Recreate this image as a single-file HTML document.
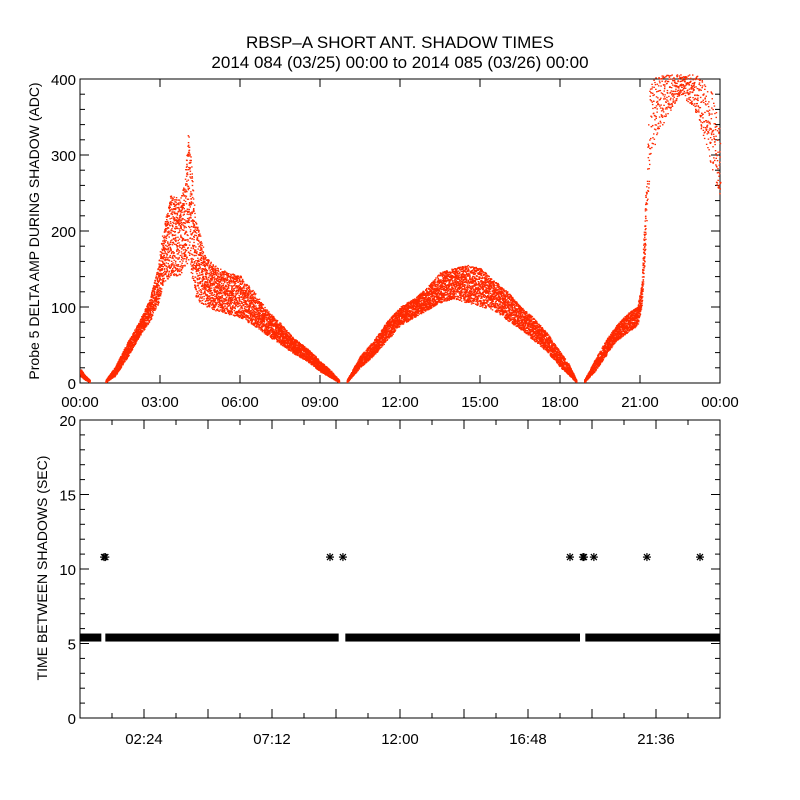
<!DOCTYPE html>
<html><head><meta charset="utf-8"><style>
body{margin:0;background:#fff}
svg{display:block}
text{font-family:"Liberation Sans",sans-serif;fill:#000}
</style></head><body>
<svg id="c" width="800" height="800" viewBox="0 0 800 800" xmlns="http://www.w3.org/2000/svg">
<rect width="800" height="800" fill="#fff"/>
<text x="400" y="48" font-size="17" text-anchor="middle">RBSP–A SHORT ANT. SHADOW TIMES</text>
<text x="400" y="68" font-size="17" text-anchor="middle">2014 084 (03/25) 00:00 to 2014 085 (03/26) 00:00</text>
<text transform="translate(39,231) rotate(-90)" font-size="14" text-anchor="middle">Probe 5 DELTA AMP DURING SHADOW (ADC)</text>
<text transform="translate(47,568) rotate(-90)" font-size="14" text-anchor="middle">TIME BETWEEN SHADOWS (SEC)</text>
<g id="top"></g><g id="bot"></g>
</svg>
<script>
// Top panel: envelope samples [hour] with low/high amplitude per segment
const seg1Hours=[0.0,0.15,0.35];
const seg1Low=[8,4,0];
const seg1High=[18,10,3];
const seg2Hours=[0.95,1.3,1.8,2.2,2.6,2.9,3.1,3.4,3.7,3.9,4.05,4.3,4.7,5.0,5.5,6.0,6.5,7.0,7.5,8.0,8.5,9.0,9.4,9.7];
const seg2Low=[0,8,35,60,80,100,130,140,140,150,160,110,100,95,90,85,75,62,50,38,28,14,6,0];
const seg2High=[3,20,55,80,110,150,200,250,240,260,340,220,165,155,145,140,120,95,78,58,45,28,15,3];
const seg3Hours=[10.0,10.5,11.0,11.5,12.0,12.5,13.0,13.5,14.0,14.5,15.0,15.5,16.0,16.5,17.0,17.5,18.0,18.3,18.6];
const seg3Low=[0,20,35,55,75,85,95,105,110,105,100,95,82,70,55,40,20,10,0];
const seg3High=[3,35,55,80,100,110,125,145,150,155,150,135,120,100,85,65,40,25,3];
const seg4Hours=[18.9,19.3,19.7,20.1,20.5,20.9,21.05,21.2];
const seg4Low=[0,15,35,55,65,75,100,180];
const seg4High=[3,30,55,75,90,100,130,250];
const seg5Hours=[21.2,21.35,21.6,22.0,22.5,23.0,23.4,23.7,24.0];
const seg5Low=[180,280,320,350,380,360,320,280,240];
const seg5High=[250,390,405,405,405,405,400,380,330];
// Bottom panel
const bandStarts=[0.0,0.95,9.95,18.95];
const bandEnds=[0.8,9.7,18.75,24.0];
const bandValue=5.4;
const outlierHours=[0.9,0.95,9.375,9.86,18.375,18.86,18.9,19.27,21.26,23.25];
const outlierValues=[10.8,10.8,10.8,10.8,10.8,10.8,10.8,10.8,10.8,10.8];
const topXTicks=["00:00","03:00","06:00","09:00","12:00","15:00","18:00","21:00","00:00"];
const topYTicks=[0,100,200,300,400];
const botXTicks=["02:24","07:12","12:00","16:48","21:36"];
const botYTicks=[0,5,10,15,20];

const NS="http://www.w3.org/2000/svg";
function mk(p,t,a){const e=document.createElementNS(NS,t);for(const k in a)e.setAttribute(k,a[k]);p.appendChild(e);return e;}
const X0=80,X1=720;
const xs=h=>X0+h/24*(X1-X0);
const yTop=v=>383-v/400*304;
const yBot=v=>718-v/20*298;
const gTop=document.getElementById('top'),gBot=document.getElementById('bot');
const hash=n=>{const s=Math.sin(n*12.9898+78.233)*43758.5453;return s-Math.floor(s);};

let f=mk(gTop,'rect',{x:X0,y:79,width:X1-X0,height:304,fill:'none',stroke:'#000','stroke-width':1});


f=mk(gBot,'rect',{x:X0,y:420,width:X1-X0,height:298,fill:'none',stroke:'#000','stroke-width':1});



for(let i=0;i<=40;i+=2){const v=i*10;const y=yTop(v);const L=(v%100===0)?9:5;
 mk(gTop,'line',{x1:X0,x2:X0+L,y1:y,y2:y,stroke:'#000'});mk(gTop,'line',{x1:X1,x2:X1-L,y1:y,y2:y,stroke:'#000'});}
topYTicks.forEach(v=>{const t=mk(gTop,'text',{x:X0-4,y:yTop(v)+6,'font-size':15,'text-anchor':'end'});t.textContent=v;
 
 });
topXTicks.forEach((s,i)=>{const x=xs(i*3);mk(gTop,'line',{x1:x,x2:x,y1:383,y2:375,stroke:'#000'});mk(gTop,'line',{x1:x,x2:x,y1:79,y2:87,stroke:'#000'});
 const t=mk(gTop,'text',{x:x,y:407,'font-size':15,'text-anchor':'middle'});t.textContent=s;
 
 });

let K=0;
function drawSeg(H,Lo,Hi,name,dens){const g=mk(gTop,'g',{fill:'#ff2a00'});
 
 
 for(let i=0;i<H.length-1;i++){const dh=H[i+1]-H[i];const n=Math.max(3,Math.round(dh*dens));
  for(let j=0;j<n;j++){K++;
   const a=hash(K), b=hash(K+100000.5);
   const fr=(j+b)/n;const h=H[i]+dh*fr;const lo=Lo[i]+(Lo[i+1]-Lo[i])*fr,hi=Hi[i]+(Hi[i+1]-Hi[i])*fr;
   const v=lo+(hi-lo)*a;if(v>405)continue;
   mk(g,'rect',{x:xs(h).toFixed(1),y:(yTop(v)-1).toFixed(1),width:1.5,height:1.3});}}}
drawSeg(seg1Hours,seg1Low,seg1High,'amp-segment-1',700);
drawSeg(seg2Hours,seg2Low,seg2High,'amp-segment-2',700);
drawSeg(seg3Hours,seg3Low,seg3High,'amp-segment-3',700);
drawSeg(seg4Hours,seg4Low,seg4High,'amp-segment-4',700);
drawSeg(seg5Hours,seg5Low,seg5High,'amp-segment-5',220);

for(let v=0;v<=20;v++){const y=yBot(v);const L=(v%5===0)?9:5;
 mk(gBot,'line',{x1:X0,x2:X0+L,y1:y,y2:y,stroke:'#000'});mk(gBot,'line',{x1:X1,x2:X1-L,y1:y,y2:y,stroke:'#000'});}
botYTicks.forEach(v=>{const t=mk(gBot,'text',{x:X0-4,y:yBot(v)+6,'font-size':15,'text-anchor':'end'});t.textContent=v;
 
 });
for(let i=1;i<20;i++){const x=xs(i*1.2);const L=(i%2===0)?9:5;
 mk(gBot,'line',{x1:x,x2:x,y1:718,y2:718-L,stroke:'#000'});mk(gBot,'line',{x1:x,x2:x,y1:420,y2:420+L,stroke:'#000'});}
botXTicks.forEach((s,i)=>{const t=mk(gBot,'text',{x:xs(2.4+i*4.8),y:744,'font-size':15,'text-anchor':'middle'});t.textContent=s;
 
 });

bandStarts.forEach((s,i)=>{const y=yBot(bandValue);const r=mk(gBot,'rect',{x:xs(s),y:y-4,width:xs(bandEnds[i])-xs(s),height:8,fill:'#000'});
 
 });
function star(x,y){const g=mk(gBot,'g',{stroke:'#000','stroke-width':1.2});
 
 
 mk(g,'line',{x1:x-4,x2:x+4,y1:y,y2:y});mk(g,'line',{x1:x,x2:x,y1:y-4,y2:y+4});
 mk(g,'line',{x1:x-3,x2:x+3,y1:y-3,y2:y+3});mk(g,'line',{x1:x-3,x2:x+3,y1:y+3,y2:y-3});}
outlierHours.forEach((h,i)=>star(xs(h),yBot(outlierValues[i])));
</script>
</body></html>
